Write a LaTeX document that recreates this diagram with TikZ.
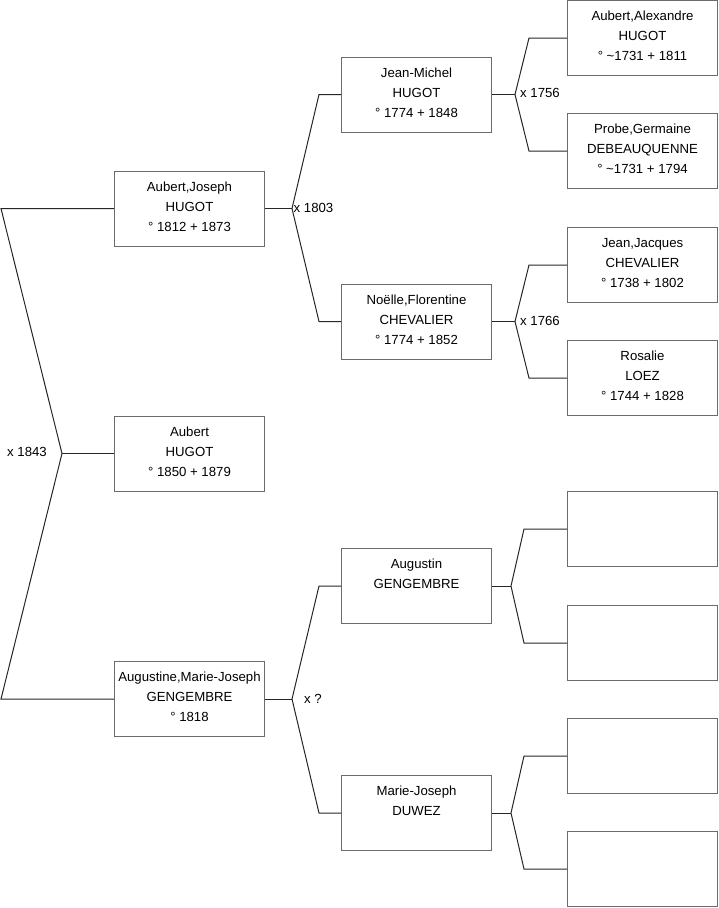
\documentclass[tikz,border=0pt]{standalone}
\usepackage{fontspec}
\setmainfont{Liberation Sans}
\definecolor{boxc}{HTML}{6B6B6B}
\definecolor{linec}{HTML}{262626}
\newcommand\lastfix{\rule[-4pt]{0pt}{4pt}}
\begin{document}
\begin{tikzpicture}[x=1pt,y=-1pt,
  person/.style={draw=boxc,line width=1pt,minimum width=150pt,minimum height=75pt,inner sep=0pt,align=center,font=\fontsize{13.2}{20}\selectfont,fill=white},
  conn/.style={draw=linec,line width=1pt},
  marr/.style={anchor=west,inner sep=0pt,font=\fontsize{13.2}{16}\selectfont}]
\useasboundingbox (0,0) rectangle (719,908);
% column 1
\node[person] (aj) at (189.5,208.5) {Aubert,Joseph\\HUGOT\\° 1812 + 1873\lastfix};
\node[person] (ah) at (189.5,453.5) {Aubert\\HUGOT\\° 1850 + 1879\lastfix};
\node[person] (am) at (189.5,699) {Augustine,Marie-Joseph\\GENGEMBRE\\° 1818\lastfix};
% column 2
\node[person] (jm) at (416.5,94.5) {Jean-Michel\\HUGOT\\° 1774 + 1848\lastfix};
\node[person] (nf) at (416.5,321.5) {Noëlle,Florentine\\CHEVALIER\\° 1774 + 1852\lastfix};
\node[person] (ag) at (416.5,586) {Augustin\\GENGEMBRE\\\mbox{}\lastfix};
\node[person] (mj) at (416.5,813) {Marie-Joseph\\DUWEZ\\\mbox{}\lastfix};
% column 3
\node[person] (r1) at (642.5,38) {Aubert,Alexandre\\HUGOT\\° \textasciitilde1731 + 1811\lastfix};
\node[person] (r2) at (642.5,151) {Probe,Germaine\\DEBEAUQUENNE\\° \textasciitilde1731 + 1794\lastfix};
\node[person] (r3) at (642.5,265) {Jean,Jacques\\CHEVALIER\\° 1738 + 1802\lastfix};
\node[person] (r4) at (642.5,378) {Rosalie\\LOEZ\\° 1744 + 1828\lastfix};
\node[person] (r5) at (642.5,529) {};
\node[person] (r6) at (642.5,643) {};
\node[person] (r7) at (642.5,756) {};
\node[person] (r8) at (642.5,869) {};
% fork coordinates
\coordinate (a0) at (1,208.5);
\coordinate (f0) at (62,453.5);
\coordinate (b0) at (1,699);
\coordinate (f1) at (292,208.5);
\coordinate (f1u) at (319,94.5);
\coordinate (f1d) at (319,321.5);
\coordinate (f2) at (292,699);
\coordinate (f2u) at (319,586);
\coordinate (f2d) at (319,813);
\coordinate (f3) at (515,94.5);
\coordinate (f3u) at (529,38);
\coordinate (f3d) at (529,151);
\coordinate (f4) at (515,321.5);
\coordinate (f4u) at (529,265);
\coordinate (f4d) at (529,378);
\coordinate (f5) at (511,586);
\coordinate (f5u) at (524,529);
\coordinate (f5d) at (524,643);
\coordinate (f6) at (511,813);
\coordinate (f6u) at (524,756);
\coordinate (f6d) at (524,869);
% connectors
\draw[conn] (aj.west) -- (a0) -- (f0) -- (b0) -- (am.west);
\draw[conn] (f0) -- (ah.west);
\draw[conn] (aj.east) -- (f1);
\draw[conn] (jm.west) -- (f1u) -- (f1) -- (f1d) -- (nf.west);
\draw[conn] (am.east) -- (f2);
\draw[conn] (ag.west) -- (f2u) -- (f2) -- (f2d) -- (mj.west);
\draw[conn] (jm.east) -- (f3);
\draw[conn] (r1.west) -- (f3u) -- (f3) -- (f3d) -- (r2.west);
\draw[conn] (nf.east) -- (f4);
\draw[conn] (r3.west) -- (f4u) -- (f4) -- (f4d) -- (r4.west);
\draw[conn] (ag.east) -- (f5);
\draw[conn] (r5.west) -- (f5u) -- (f5) -- (f5d) -- (r6.west);
\draw[conn] (mj.east) -- (f6);
\draw[conn] (r7.west) -- (f6u) -- (f6) -- (f6d) -- (r8.west);
% marriage labels
\node[marr] (m0) at (7,452) {x 1843};
\node[marr] (m1) at (293.5,208) {x 1803};
\node[marr] (m2) at (304,699) {x ?};
\node[marr] (m3) at (520,93) {x 1756};
\node[marr] (m4) at (520,321) {x 1766};
\end{tikzpicture}
\end{document}
